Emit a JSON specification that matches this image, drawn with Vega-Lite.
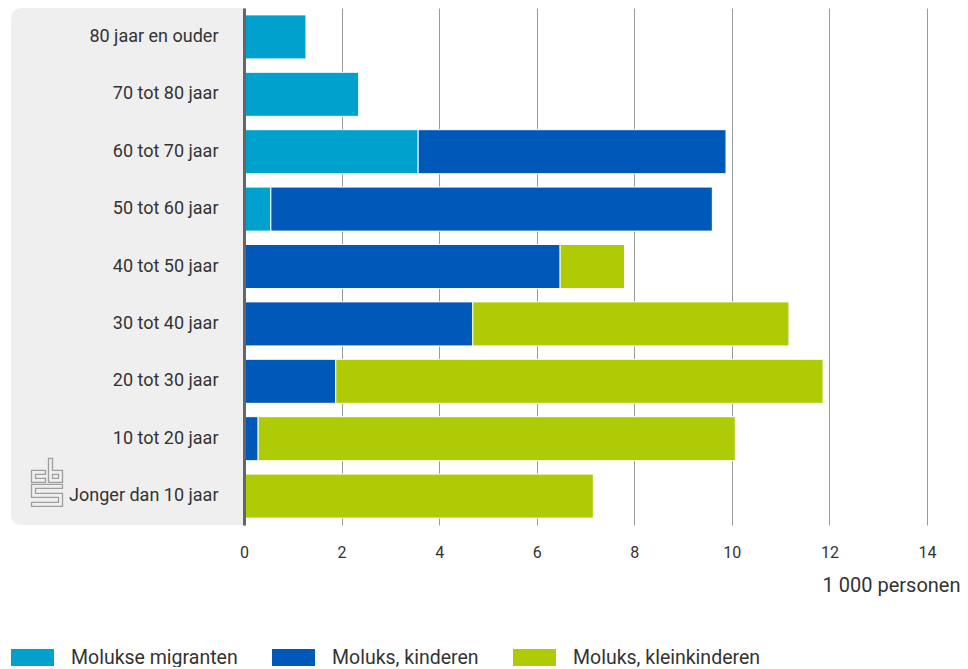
{
  "$schema": "https://vega.github.io/schema/vega-lite/v6.json",
  "padding": {"left": 11, "top": 8, "right": 0, "bottom": 0},
  "background": "#ffffff",
  "spacing": 0,
  "bounds": "flush",
  "config": {
    "font": "Roboto",
    "text": {"font": "Roboto"},
    "concat": {"spacing": 0}
  },
  "datasets": {
    "ages": [
      {"leeftijd": "80 jaar en ouder", "r": 1},
      {"leeftijd": "70 tot 80 jaar", "r": 2},
      {"leeftijd": "60 tot 70 jaar", "r": 3},
      {"leeftijd": "50 tot 60 jaar", "r": 4},
      {"leeftijd": "40 tot 50 jaar", "r": 5},
      {"leeftijd": "30 tot 40 jaar", "r": 6},
      {"leeftijd": "20 tot 30 jaar", "r": 7},
      {"leeftijd": "10 tot 20 jaar", "r": 8},
      {"leeftijd": "Jonger dan 10 jaar", "r": 9}
    ],
    "logo": [
      {"leeftijd": "Jonger dan 10 jaar", "r": 9}
    ],
    "bars": [
      {"leeftijd": "80 jaar en ouder", "groep": "Molukse migranten", "o": 1, "waarde": 1.27},
      {"leeftijd": "70 tot 80 jaar", "groep": "Molukse migranten", "o": 1, "waarde": 2.35},
      {"leeftijd": "60 tot 70 jaar", "groep": "Molukse migranten", "o": 1, "waarde": 3.57},
      {"leeftijd": "60 tot 70 jaar", "groep": "Moluks, kinderen", "o": 2, "waarde": 6.31},
      {"leeftijd": "50 tot 60 jaar", "groep": "Molukse migranten", "o": 1, "waarde": 0.55},
      {"leeftijd": "50 tot 60 jaar", "groep": "Moluks, kinderen", "o": 2, "waarde": 9.05},
      {"leeftijd": "40 tot 50 jaar", "groep": "Moluks, kinderen", "o": 2, "waarde": 6.48},
      {"leeftijd": "40 tot 50 jaar", "groep": "Moluks, kleinkinderen", "o": 3, "waarde": 1.32},
      {"leeftijd": "30 tot 40 jaar", "groep": "Moluks, kinderen", "o": 2, "waarde": 4.69},
      {"leeftijd": "30 tot 40 jaar", "groep": "Moluks, kleinkinderen", "o": 3, "waarde": 6.48},
      {"leeftijd": "20 tot 30 jaar", "groep": "Moluks, kinderen", "o": 2, "waarde": 1.88},
      {"leeftijd": "20 tot 30 jaar", "groep": "Moluks, kleinkinderen", "o": 3, "waarde": 9.99},
      {"leeftijd": "10 tot 20 jaar", "groep": "Moluks, kinderen", "o": 2, "waarde": 0.29},
      {"leeftijd": "10 tot 20 jaar", "groep": "Moluks, kleinkinderen", "o": 3, "waarde": 9.78},
      {"leeftijd": "Jonger dan 10 jaar", "groep": "Moluks, kleinkinderen", "o": 3, "waarde": 7.16}
    ]
  },
  "hconcat": [
    {
      "width": 233,
      "height": 517,
      "view": {"stroke": null},
      "layer": [
        {
          "data": {"name": "logo"},
          "mark": {"type": "rect", "color": "#efefef", "cornerRadiusTopLeft": 10, "cornerRadiusBottomLeft": 10},
          "encoding": {}
        },
        {
          "data": {"name": "ages"},
          "mark": {"type": "text", "align": "right", "baseline": "middle", "dx": 91, "fontSize": 18, "color": "#333333"},
          "encoding": {
            "y": {
              "field": "leeftijd", "type": "nominal",
              "sort": {"field": "r", "order": "ascending"},
              "scale": {"paddingInner": 0.233, "paddingOuter": 0.12},
              "axis": null
            },
            "text": {"field": "leeftijd"}
          }
        },
        {
          "data": {"name": "logo"},
          "mark": {
            "type": "point", "filled": false, "stroke": "#9e9e9e", "strokeWidth": 1.3, "opacity": 1,
            "size": 2304,
            "shape": "M-3.417,-1.083L-4,-1.083L-4,-0.583L-3.417,-0.583L-3.417,-0.75L-3.833,-0.75L-3.833,-0.916L-3.417,-0.916ZM-3.292,-1.583L-3.125,-1.583L-3.125,-1.083L-2.708,-1.083L-2.708,-0.583L-3.292,-0.583ZM-3.125,-0.916L-2.875,-0.916L-2.875,-0.75L-3.125,-0.75ZM-2.708,-0.5L-4,-0.5L-4,0.042L-2.875,0.042L-2.875,0.25L-4,0.25L-4,0.417L-2.708,0.417L-2.708,-0.125L-3.833,-0.125L-3.833,-0.333L-2.708,-0.333Z"
          },
          "encoding": {
            "y": {
              "field": "leeftijd", "type": "nominal",
              "sort": {"field": "r", "order": "ascending"},
              "axis": null
            }
          }
        }
      ]
    },
    {
      "width": 683,
      "height": 517,
      "view": {"stroke": null},
      "data": {"name": "bars"},
      "mark": {"type": "bar", "stroke": "#ffffff", "strokeWidth": 1},
      "encoding": {
        "y": {
          "field": "leeftijd", "type": "nominal",
          "sort": ["80 jaar en ouder", "70 tot 80 jaar", "60 tot 70 jaar", "50 tot 60 jaar", "40 tot 50 jaar", "30 tot 40 jaar", "20 tot 30 jaar", "10 tot 20 jaar", "Jonger dan 10 jaar"],
          "scale": {"paddingInner": 0.233, "paddingOuter": 0.12},
          "axis": {"labels": false, "ticks": false, "title": null, "domain": true, "domainColor": "#666666", "domainWidth": 3, "zindex": 1}
        },
        "x": {
          "field": "waarde", "type": "quantitative", "stack": "zero",
          "scale": {"domain": [0, 14], "nice": false},
          "axis": {
            "values": [0, 2, 4, 6, 8, 10, 12, 14],
            "domain": false, "ticks": false, "labelFlush": false,
            "grid": true, "gridColor": "#9a9a9a", "gridWidth": 1,
            "labelFontSize": 16, "labelColor": "#333333", "labelPadding": 19,
            "labelFont": "Roboto",
            "title": "1 000 personen", "titleFontSize": 20, "titleFontWeight": "normal",
            "titleColor": "#333333", "titleFont": "Roboto",
            "titleAnchor": "end", "titleAlign": "right", "titleBaseline": "middle",
            "titleX": 716, "titleY": 60
          }
        },
        "color": {
          "field": "groep", "type": "nominal",
          "scale": {
            "domain": ["Molukse migranten", "Moluks, kinderen", "Moluks, kleinkinderen"],
            "range": ["#00a1cd", "#0058b8", "#afcb05"]
          },
          "legend": {
            "title": null, "orient": "none", "legendX": 0, "legendY": 628,
            "direction": "horizontal", "columns": 3, "columnPadding": 34,
            "symbolType": "M-1,-0.4L1,-0.4L1,0.4L-1,0.4Z", "symbolSize": 1849,
            "symbolStrokeWidth": 0, "labelFontSize": 19.5, "labelColor": "#333333",
            "labelFont": "Roboto", "labelOffset": 17, "labelLimit": 300
          }
        },
        "order": {"field": "o", "type": "quantitative"}
      }
    }
  ]
}
